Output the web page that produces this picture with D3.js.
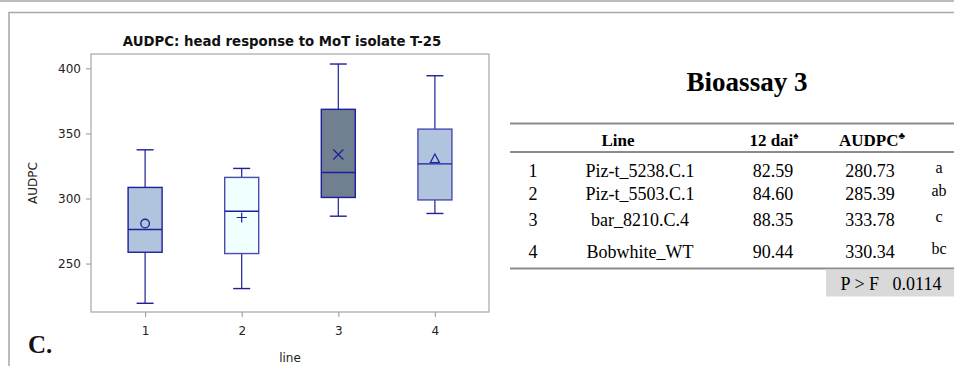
<!DOCTYPE html>
<html>
<head>
<meta charset="utf-8">
<script src="https://cdn.jsdelivr.net/npm/d3@7"></script>
<style>
  html, body { margin: 0; padding: 0; background: #fff; }
  svg { display: block; }
</style>
</head>
<body>
<svg id="chart" width="954" height="366"></svg>
<script>
// ---- Data ----
const lines = ["1", "2", "3", "4"];
const whiskerLow = [219.5, 230.8, 286.4, 288.5];
const q1 = [258.7, 257.7, 300.8, 298.9];
const median = [276.2, 290.2, 320.0, 326.6];
const q3 = [308.5, 316.2, 368.5, 353.3];
const whiskerHigh = [337.4, 323.1, 403.3, 394.3];
const means = [280.73, 285.39, 333.78, 330.34];
const meanMarkers = ["circle", "plus", "cross", "triangle"];
const boxFills = ["#b0c4de", "#f0ffff", "#708090", "#b0c4de"];
const yTicks = [250, 300, 350, 400];

const tableLineNames = ["Piz-t_5238.C.1", "Piz-t_5503.C.1", "bar_8210.C.4", "Bobwhite_WT"];
const tableDai = ["82.59", "84.60", "88.35", "90.44"];
const tableAudpc = ["280.73", "285.39", "333.78", "330.34"];
const tableGroups = ["a", "ab", "c", "bc"];
const pValue = "0.0114";

// ---- Layout ----
const svg = d3.select("#chart");
const sansFont = "'DejaVu Sans', Verdana, sans-serif";
const serifFont = "'Liberation Serif', 'Times New Roman', serif";
const frameGray = "#a6a6a6";
const navy = "#1f1f99";

// outer panel lines
svg.append("line").attr("x1", 0).attr("x2", 954).attr("y1", 1).attr("y2", 1)
  .attr("stroke", frameGray).attr("stroke-width", 1.5);
svg.append("line").attr("x1", 8.5).attr("x2", 954).attr("y1", 12.5).attr("y2", 12.5)
  .attr("stroke", frameGray).attr("stroke-width", 1.5);
svg.append("line").attr("x1", 9).attr("x2", 9).attr("y1", 12).attr("y2", 366)
  .attr("stroke", frameGray).attr("stroke-width", 1.5);

const plot = { left: 91, right: 489, top: 54, bottom: 312 };

const x = d3.scalePoint().domain(lines).range([plot.left, plot.right]).padding(0.56);
const y = d3.scaleLinear().domain([212.8, 411]).range([plot.bottom, plot.top]);

// plot frame
svg.append("rect")
  .attr("x", plot.left).attr("y", plot.top)
  .attr("width", plot.right - plot.left).attr("height", plot.bottom - plot.top)
  .attr("fill", "none").attr("stroke", frameGray).attr("stroke-width", 1.2);

// axes
const yAxis = svg.append("g").attr("transform", `translate(${plot.left},0)`)
  .call(d3.axisLeft(y).tickValues(yTicks).tickSize(5).tickPadding(5).tickFormat(d3.format("d")));
const xAxis = svg.append("g").attr("transform", `translate(0,${plot.bottom})`)
  .call(d3.axisBottom(x).tickSize(5).tickPadding(9));
[yAxis, xAxis].forEach(g => {
  g.select(".domain").remove();
  g.selectAll(".tick line").attr("stroke", frameGray).attr("stroke-width", 1.2);
  g.selectAll(".tick text").attr("fill", "#222").attr("font-size", 12).attr("font-family", sansFont);
});

// title & labels
svg.append("text").attr("x", 282).attr("y", 46).attr("text-anchor", "middle")
  .attr("font-family", sansFont).attr("font-weight", "bold").attr("font-size", 13.3)
  .attr("fill", "#111").text("AUDPC: head response to MoT isolate T-25");
svg.append("text").attr("transform", "translate(37,183) rotate(-90)").attr("text-anchor", "middle")
  .attr("font-family", sansFont).attr("font-size", 12).attr("fill", "#222").text("AUDPC");
svg.append("text").attr("x", 290).attr("y", 362).attr("text-anchor", "middle")
  .attr("font-family", sansFont).attr("font-size", 12).attr("fill", "#222").text("line");
svg.append("text").attr("x", 28).attr("y", 353)
  .attr("font-family", serifFont).attr("font-weight", "bold").attr("font-size", 25)
  .attr("fill", "#111").text("C.");

// boxes
const boxW = 34, capW = 17;
const boxes = svg.append("g");
lines.forEach((l, i) => {
  const cx = x(l);
  const g = boxes.append("g");
  // whiskers
  g.append("line").attr("x1", cx).attr("x2", cx).attr("y1", y(q3[i])).attr("y2", y(whiskerHigh[i]))
    .attr("stroke", navy).attr("stroke-width", 1.2);
  g.append("line").attr("x1", cx).attr("x2", cx).attr("y1", y(q1[i])).attr("y2", y(whiskerLow[i]))
    .attr("stroke", navy).attr("stroke-width", 1.2);
  g.append("line").attr("x1", cx - capW / 2).attr("x2", cx + capW / 2)
    .attr("y1", y(whiskerHigh[i])).attr("y2", y(whiskerHigh[i])).attr("stroke", navy).attr("stroke-width", 1.4);
  g.append("line").attr("x1", cx - capW / 2).attr("x2", cx + capW / 2)
    .attr("y1", y(whiskerLow[i])).attr("y2", y(whiskerLow[i])).attr("stroke", navy).attr("stroke-width", 1.4);
  // box
  g.append("rect").attr("x", cx - boxW / 2).attr("y", y(q3[i]))
    .attr("width", boxW).attr("height", y(q1[i]) - y(q3[i]))
    .attr("fill", boxFills[i]).attr("stroke", i % 2 === 1 ? "#4a4ab3" : navy).attr("stroke-width", 1.4);
  // median
  g.append("line").attr("x1", cx - boxW / 2).attr("x2", cx + boxW / 2)
    .attr("y1", y(median[i])).attr("y2", y(median[i])).attr("stroke", navy).attr("stroke-width", 1.4);
  // mean marker
  const my = y(means[i]);
  const m = meanMarkers[i];
  if (m === "circle") {
    g.append("circle").attr("cx", cx).attr("cy", my).attr("r", 4.3)
      .attr("fill", "none").attr("stroke", navy).attr("stroke-width", 1.3);
  } else if (m === "plus") {
    g.append("path").attr("d", `M${cx - 5},${my}H${cx + 5}M${cx},${my - 5}V${my + 5}`)
      .attr("stroke", navy).attr("stroke-width", 1.2);
  } else if (m === "cross") {
    g.append("path").attr("d", `M${cx - 5},${my - 5}L${cx + 5},${my + 5}M${cx - 5},${my + 5}L${cx + 5},${my - 5}`)
      .attr("stroke", navy).attr("stroke-width", 1.2);
  } else {
    g.append("path").attr("d", `M${cx},${my - 5}L${cx + 4.5},${my + 3.5}L${cx - 4.5},${my + 3.5}Z`)
      .attr("fill", "none").attr("stroke", navy).attr("stroke-width", 1.2);
  }
});

// ---- Table ----
const tableGray = "#8c8c8c";
svg.append("text").attr("x", 747).attr("y", 91).attr("text-anchor", "middle")
  .attr("font-family", serifFont).attr("font-weight", "bold").attr("font-size", 27)
  .attr("fill", "#000").text("Bioassay 3");

[123.5, 152, 268.5].forEach(ry => {
  svg.append("line").attr("x1", 510).attr("x2", 954).attr("y1", ry).attr("y2", ry)
    .attr("stroke", tableGray).attr("stroke-width", 2);
});

// header
const hdr = svg.append("g").attr("font-family", serifFont).attr("font-weight", "bold")
  .attr("font-size", 17).attr("fill", "#000").attr("text-anchor", "middle");
hdr.append("text").attr("x", 618).attr("y", 146).text("Line");
const h2 = hdr.append("text").attr("x", 774).attr("y", 146);
h2.append("tspan").text("12 dai");
h2.append("tspan").attr("font-size", 10).attr("dy", -7).text("♠");
const h3 = hdr.append("text").attr("x", 872).attr("y", 146);
h3.append("tspan").text("AUDPC");
h3.append("tspan").attr("font-size", 10).attr("dy", -7).text("♣");

// rows
const rowY = [177, 199.5, 226, 258];
const rows = svg.append("g").attr("font-family", serifFont).attr("font-size", 18)
  .attr("fill", "#000").attr("text-anchor", "middle");
lines.forEach((l, i) => {
  rows.append("text").attr("x", 533).attr("y", rowY[i]).text(l);
  rows.append("text").attr("x", 640).attr("y", rowY[i]).text(tableLineNames[i]);
  rows.append("text").attr("x", 773).attr("y", rowY[i]).text(tableDai[i]);
  rows.append("text").attr("x", 870).attr("y", rowY[i]).text(tableAudpc[i]);
  rows.append("text").attr("x", 939).attr("y", rowY[i] - 4).attr("font-size", 16).text(tableGroups[i]);
});

// P > F box
svg.append("rect").attr("x", 826).attr("y", 269.5).attr("width", 128).attr("height", 27)
  .attr("fill", "#d9d9d9");
svg.append("text").attr("x", 891).attr("y", 290).attr("text-anchor", "middle")
  .attr("font-family", serifFont).attr("font-size", 18).attr("fill", "#000")
  .attr("xml:space", "preserve").text("P > F   " + pValue);
</script>
</body>
</html>
